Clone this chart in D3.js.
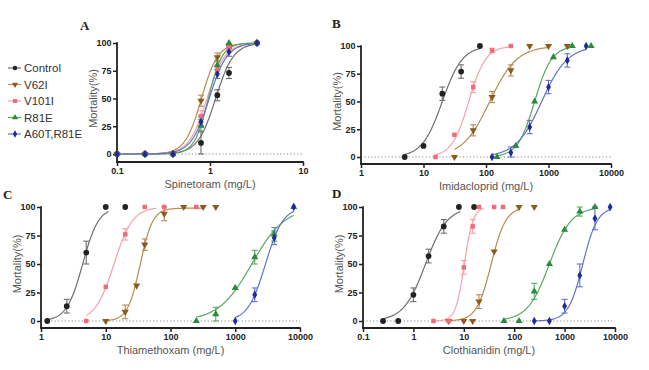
<!DOCTYPE html>
<html><head><meta charset="utf-8">
<script src="https://cdn.jsdelivr.net/npm/d3@7"></script>
<style>body{margin:0;background:#fff}svg{display:block}</style>
</head><body>
<svg id="c" width="649" height="370"></svg>
<script>
// ---------- series definitions ----------
const seriesNames = ["Control","V62I","V101I","R81E","A60T,R81E"];
const markerColors = ["#222222","#8c5a1c","#f06a7c","#2b8a3c","#1c2a9a"];
const curveColors  = ["#6e6e6e","#b98a52","#f7a0aa","#56a862","#6272cc"];
const symbolTypes  = ["circle","triangleDown","square","triangle","diamond"];

// ---------- Panel A: Spinetoram ----------
const aX = [0.1,0.2,0.4,0.8,1.2,1.6,3.2];
const aControl = [0,0,0,10,53,73,100];
const aV62I    = [0,0,0,48,87,97,100];
const aV101I   = [0,0,0,34,76,96,100];
const aR81E    = [0,0,0,26,80,100,100];
const aA60T    = [0,0,0,29,72,92,100];
const aErr = [[0,0,0,10,5,5,0],[0,0,0,5,4,2,0],[0,0,0,5,4,2,0],[0,0,0,5,4,0,0],[0,0,0,5,4,4,0]];
const aLC50 = [1.15,0.81,0.93,0.96,0.98];
const aHill = [4.5,4.9,4.5,5.8,4.5];
const aTop  = [100,100,100,100,100];
const aRange = [[0.1,3.2],[0.1,3.2],[0.1,3.2],[0.1,3.2],[0.1,3.2]];
const aTicks = [0.1,1,10];
const aTickLabels = ["0.1","1","10"];

// ---------- Panel B: Imidacloprid ----------
const bXControl = [5,10,20,40,80];
const bControl  = [0,10,57,77,100];
const bXV62I = [31.25,62.5,125,250,500,1000,2000];
const bV62I  = [0,24,54,78,100,100,100];
const bXV101I = [15.625,31.25,62.5,125,250];
const bV101I  = [0,20,63,96,100];
const bXR81E = [150,300,600,1200,2400,4800];
const bR81E  = [0,10,50,90,100,100];
const bXA60T = [125,250,500,1000,2000,4000];
const bA60T  = [0,4,27,63,87,100];
const bErr = [[0,0,6,6,0],[0,5,5,5,0,0,0],[0,0,5,2,0],[0,0,0,0,0,0],[0,5,6,6,6,0]];
const bLC50 = [20,115,53,600,780];
const bHill = [2.7,2.0,3.2,3.2,2.1];
const bTop  = [100,100,100,100,100];
const bRange = [[5,80],[31.25,1000],[15.625,250],[150,2600],[125,4000]];
const bTicks = [1,10,100,1000,10000];
const bTickLabels = ["1","10","100","1000","10000"];

// ---------- Panel C: Thiamethoxam ----------
const cXControl = [1.25,2.5,5,10,20];
const cControl  = [0,13,60,100,100];
const cXV62I = [10,20,30,40,80,160,320,500];
const cV62I  = [0,8,31,67,94,100,100,100];
const cXV101I = [5,10,20,40,80,250];
const cV101I  = [0,30,76,100,100,100];
const cXR81E = [250,500,1000,2000,4000,8000];
const cR81E  = [0,6,29,56,76,100];
const cXA60T = [1000,2000,4000,8000];
const cA60T  = [0,23,73,100];
const cErr = [[0,6,10,0,0],[0,6,0,5,6,0,0,0],[0,0,5,0,0,0],[0,6,0,6,6,0],[0,6,6,0]];
const cLC50 = [4.4,34,13.4,1800,2930];
const cHill = [3.5,4.5,3.0,1.7,3.2];
const cTop  = [100,99,100,100,100];
const cRange = [[1.25,11],[10,320],[5,60],[250,8000],[1000,8000]];
const cTicks = [1,10,100,1000,10000];
const cTickLabels = ["1","10","100","1000","10000"];

// ---------- Panel D: Clothianidin ----------
const dXControl = [0.25,0.5,1,2,4,8,16];
const dControl  = [0,0,23,57,83,100,100];
const dXV62I = [5,10,15,20,40,125,250];
const dV62I  = [0,0,0,17,61,100,100];
const dXV101I = [2.5,5,10,15,20,40,60];
const dV101I  = [0,0,47,83,100,100,100];
const dXR81E = [62.5,125,250,500,1000,2000,4000];
const dR81E  = [0,0,26,50,80,96,100];
const dXA60T = [250,500,1000,2000,4000,8000];
const dA60T  = [0,0,13,40,90,100];
const dErr = [[0,0,6,6,6,0,0],[0,0,0,6,0,0,0],[0,0,6,6,0,0,0],[0,0,7,0,0,4,0],[0,0,6,10,10,0]];
const dLC50 = [1.74,35,10.25,500,2300];
const dHill = [2.0,3.0,5.0,2.0,3.0];
const dTop  = [100,100,100,100,100];
const dRange = [[0.25,8.5],[5,125],[2.5,25],[62.5,4000],[250,8000]];
const dTicks = [0.1,1,10,100,1000,10000];
const dTickLabels = ["0.1","1","10","100","1000","10000"];

const yTicks = [0,25,50,75,100];

const panels = [
  {letter:"A", title:"Spinetoram (mg/L)", xs:[aX,aX,aX,aX,aX], ys:[aControl,aV62I,aV101I,aR81E,aA60T], err:aErr, lc:aLC50, hill:aHill, top:aTop, range:aRange,
   ticks:aTicks, labels:aTickLabels, x0:117, x1:303, y100:43, y0:154, axisY:162, letterPos:[80,30]},
  {letter:"B", title:"Imidacloprid (mg/L)", xs:[bXControl,bXV62I,bXV101I,bXR81E,bXA60T], ys:[bControl,bV62I,bV101I,bR81E,bA60T], err:bErr, lc:bLC50, hill:bHill, top:bTop, range:bRange,
   ticks:bTicks, labels:bTickLabels, x0:361, x1:611, y100:46, y0:157, axisY:164, letterPos:[332,28]},
  {letter:"C", title:"Thiamethoxam (mg/L)", xs:[cXControl,cXV62I,cXV101I,cXR81E,cXA60T], ys:[cControl,cV62I,cV101I,cR81E,cA60T], err:cErr, lc:cLC50, hill:cHill, top:cTop, range:cRange,
   ticks:cTicks, labels:cTickLabels, x0:41, x1:300, y100:207, y0:321, axisY:328, letterPos:[3,199]},
  {letter:"D", title:"Clothianidin (mg/L)", xs:[dXControl,dXV62I,dXV101I,dXR81E,dXA60T], ys:[dControl,dV62I,dV101I,dR81E,dA60T], err:dErr, lc:dLC50, hill:dHill, top:dTop, range:dRange,
   ticks:dTicks, labels:dTickLabels, x0:363, x1:615, y100:207, y0:321, axisY:328, letterPos:[332,198]}
];

const svg = d3.select("#c");
const FONT = "'Liberation Sans', Arial, Helvetica, sans-serif";
const markerSize = {circle:26, square:20, triangle:22, triangleDown:22, diamond:20};

function symbolPath(type, size){
  const s = {circle:d3.symbolCircle, square:d3.symbolSquare, triangle:d3.symbolTriangle,
             triangleDown:d3.symbolTriangle, diamond:d3.symbolDiamond}[type];
  return d3.symbol().type(s).size(size)();
}
function symbolRotate(type){ return type==="triangleDown" ? 180 : 0; }

panels.forEach(p => {
  const g = svg.append("g");
  const x = d3.scaleLog().domain([p.ticks[0], p.ticks[p.ticks.length-1]]).range([p.x0, p.x1]);
  const y = d3.scaleLinear().domain([0,100]).range([p.y0, p.y100]);

  // dotted zero line
  g.append("line").attr("x1", p.x0).attr("x2", p.x1).attr("y1", y(0)).attr("y2", y(0))
    .attr("stroke","#8a8a8a").attr("stroke-width",1).attr("stroke-dasharray","1.2,2.2");

  // axes
  const xa = g.append("g").attr("transform", `translate(0,${p.axisY})`)
    .call(d3.axisBottom(x).tickValues(p.ticks).tickFormat((d,i)=>p.labels[i]).tickSize(4).tickPadding(2));
  const ya = g.append("g").attr("transform", `translate(${p.x0},0)`)
    .call(d3.axisLeft(y).tickValues(yTicks).tickFormat(d3.format("d")).tickSize(4).tickPadding(1.5));
  [xa, ya].forEach(a => {
    a.select(".domain").remove();
    a.selectAll(".tick line").attr("stroke","#222").attr("stroke-width",1.5);
    a.selectAll(".tick text").attr("fill","#222").style("font-family",FONT).style("font-size","9px").style("font-weight","bold");
  });
  g.append("line").attr("x1",p.x0).attr("x2",p.x0).attr("y1",y(100)-0.75).attr("y2",p.axisY)
    .attr("stroke","#222").attr("stroke-width",1.8);
  g.append("line").attr("x1",p.x0-0.9).attr("x2",p.x1+0.75).attr("y1",p.axisY).attr("y2",p.axisY)
    .attr("stroke","#222").attr("stroke-width",1.8);

  // titles
  g.append("text").attr("x",(p.x0+p.x1)/2).attr("y",p.axisY+26).attr("text-anchor","middle")
    .style("font-family",FONT).style("font-size","11px").attr("fill","#555").text(p.title);
  g.append("text").attr("transform",`translate(${p.x0-20},${(y(0)+y(100))/2}) rotate(-90)`)
    .attr("text-anchor","middle").style("font-family",FONT).style("font-size","11px").attr("fill","#555").text("Mortality(%)");
  g.append("text").attr("x",p.letterPos[0]).attr("y",p.letterPos[1])
    .style("font-family","'Liberation Serif','Times New Roman',serif").style("font-size","13px").style("font-weight","bold")
    .attr("fill","#222").text(p.letter);

  // fitted curves
  const line = d3.line().x(d=>x(d[0])).y(d=>y(d[1]));
  seriesNames.forEach((nm, si) => {
    const [lo, hi] = p.range[si];
    const ll = Math.log10(lo), lh = Math.log10(hi);
    const pts = d3.range(0, 121).map(k => {
      const lx = ll + (lh-ll)*k/120;
      const v = p.top[si] / (1 + Math.pow(10, p.hill[si]*(Math.log10(p.lc[si]) - lx)));
      return [Math.pow(10, lx), v];
    });
    g.append("path").attr("d", line(pts)).attr("fill","none")
      .attr("stroke", curveColors[si]).attr("stroke-width",1.2);
  });

  // error bars
  seriesNames.forEach((nm, si) => {
    p.xs[si].forEach((xv, k) => {
      const e = p.err[si][k];
      if (!e) return;
      const v = p.ys[si][k];
      const cx = x(xv);
      const eg = g.append("g").attr("stroke", curveColors[si]).attr("stroke-width",1.1);
      eg.append("line").attr("x1",cx).attr("x2",cx).attr("y1",y(Math.min(100,v+e))).attr("y2",y(Math.max(0,v-e)));
      eg.append("line").attr("x1",cx-3).attr("x2",cx+3).attr("y1",y(Math.min(100,v+e))).attr("y2",y(Math.min(100,v+e)));
      eg.append("line").attr("x1",cx-3).attr("x2",cx+3).attr("y1",y(Math.max(0,v-e))).attr("y2",y(Math.max(0,v-e)));
    });
  });

  // markers
  seriesNames.forEach((nm, si) => {
    p.xs[si].forEach((xv, k) => {
      g.append("path").attr("d", symbolPath(symbolTypes[si], markerSize[symbolTypes[si]]))
        .attr("transform", `translate(${x(xv)},${y(p.ys[si][k])}) rotate(${symbolRotate(symbolTypes[si])})`)
        .attr("fill", markerColors[si]);
    });
  });
});

// legend
const lg = svg.append("g");
seriesNames.forEach((nm, i) => {
  const yy = 68 + i*16.5;
  lg.append("line").attr("x1",8).attr("x2",21).attr("y1",yy).attr("y2",yy).attr("stroke",curveColors[i]).attr("stroke-width",1.2);
  lg.append("path").attr("d", symbolPath(symbolTypes[i], 16))
    .attr("transform",`translate(15,${yy}) rotate(${symbolRotate(symbolTypes[i])})`).attr("fill",markerColors[i]);
  lg.append("text").attr("x",24).attr("y",yy+4).style("font-family",FONT).style("font-size","11.5px")
    .attr("fill","#333").text(nm);
});
</script>
</body></html>
